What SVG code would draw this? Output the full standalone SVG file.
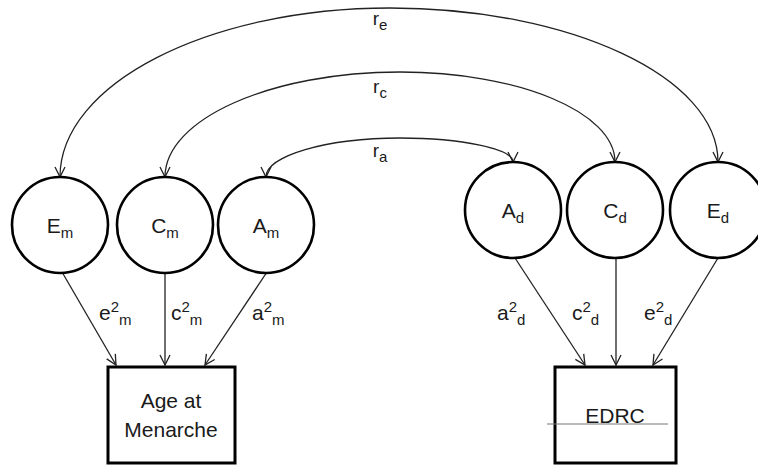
<svg xmlns="http://www.w3.org/2000/svg" width="758" height="466" viewBox="0 0 758 466">
<style>
text{font-family:"Liberation Sans",Arial,sans-serif;fill:#1a1a1a}
.node{fill:#fff;stroke:#000;stroke-width:2.6}
.box{fill:#fff;stroke:#000;stroke-width:3}
.edge{fill:none;stroke:#222;stroke-width:1.3}
.lbl{font-size:21px}
.nl{font-size:21px}
.sub{font-size:15px}
.rl{font-size:19px}
</style>
<defs>
<marker id="ah" markerUnits="userSpaceOnUse" viewBox="-12 -7 14 14" markerWidth="14" markerHeight="14" refX="0" refY="0" orient="auto-start-reverse">
<path d="M-10,-5 L0,0 L-10,5" fill="none" stroke="#222" stroke-width="1.3"/>
</marker>
</defs>
<rect width="758" height="466" fill="#fff"/>
<g id="connectors">
<path class="edge" d="M60,177 C60,84 208,8 390,8 C570,8 718,77 718,162" marker-start="url(#ah)" marker-end="url(#ah)"/>
<path class="edge" d="M165,177 C165,119 271,72 400,72 C518,72 615,112 615,162" marker-start="url(#ah)" marker-end="url(#ah)"/>
<path class="edge" d="M266,177 C266,156 326,138 400,138 C462,138 513,149 513,162" marker-start="url(#ah)" marker-end="url(#ah)"/>
<line class="edge" x1="62" y1="272" x2="116" y2="365" marker-end="url(#ah)"/>
<line class="edge" x1="165" y1="273" x2="165" y2="365" marker-end="url(#ah)"/>
<line class="edge" x1="267" y1="272" x2="205" y2="365" marker-end="url(#ah)"/>
<line class="edge" x1="515" y1="258" x2="585" y2="365" marker-end="url(#ah)"/>
<line class="edge" x1="616" y1="258" x2="616" y2="365" marker-end="url(#ah)"/>
<line class="edge" x1="718" y1="258" x2="653" y2="365" marker-end="url(#ah)"/>
<text class="rl" x="380" y="25" text-anchor="middle">r<tspan class="sub" dy="5">e</tspan></text>
<text class="rl" x="380" y="93" text-anchor="middle">r<tspan class="sub" dy="5">c</tspan></text>
<text class="rl" x="380" y="157" text-anchor="middle">r<tspan class="sub" dy="5">a</tspan></text>
<text class="lbl" x="99" y="320">e<tspan class="sub" dy="-8">2</tspan><tspan class="sub" dy="13">m</tspan></text>
<text class="lbl" x="171" y="320">c<tspan class="sub" dy="-8">2</tspan><tspan class="sub" dy="13">m</tspan></text>
<text class="lbl" x="252" y="320">a<tspan class="sub" dy="-8">2</tspan><tspan class="sub" dy="13">m</tspan></text>
<text class="lbl" x="497" y="320">a<tspan class="sub" dy="-8">2</tspan><tspan class="sub" dy="13">d</tspan></text>
<text class="lbl" x="572" y="320">c<tspan class="sub" dy="-8">2</tspan><tspan class="sub" dy="13">d</tspan></text>
<text class="lbl" x="644" y="320">e<tspan class="sub" dy="-8">2</tspan><tspan class="sub" dy="13">d</tspan></text>
</g>
<g id="Em"><circle class="node" cx="60" cy="225" r="48"/><text class="nl" x="60" y="233" text-anchor="middle">E<tspan class="sub" dy="5">m</tspan></text></g>
<g id="Cm"><circle class="node" cx="165" cy="225" r="48"/><text class="nl" x="165" y="233" text-anchor="middle">C<tspan class="sub" dy="5">m</tspan></text></g>
<g id="Am"><circle class="node" cx="266" cy="225" r="48"/><text class="nl" x="266" y="233" text-anchor="middle">A<tspan class="sub" dy="5">m</tspan></text></g>
<g id="Ad"><circle class="node" cx="513" cy="210" r="48"/><text class="nl" x="513" y="218" text-anchor="middle">A<tspan class="sub" dy="5">d</tspan></text></g>
<g id="Cd"><circle class="node" cx="615" cy="210" r="48"/><text class="nl" x="615" y="218" text-anchor="middle">C<tspan class="sub" dy="5">d</tspan></text></g>
<g id="Ed"><circle class="node" cx="718" cy="210" r="48"/><text class="nl" x="718" y="218" text-anchor="middle">E<tspan class="sub" dy="5">d</tspan></text></g>
<g id="AgeAtMenarche"><rect class="box" x="108" y="367" width="127" height="96"/>
<text class="lbl" x="171" y="408" text-anchor="middle">Age at</text>
<text class="lbl" x="171" y="437" text-anchor="middle">Menarche</text></g>
<g id="EDRC"><rect class="box" x="555" y="367" width="121" height="96"/>
<text class="lbl" x="615" y="423" text-anchor="middle">EDRC</text>
<line x1="547" y1="424" x2="668" y2="424" stroke="#777" stroke-width="1"/></g>
</svg>
